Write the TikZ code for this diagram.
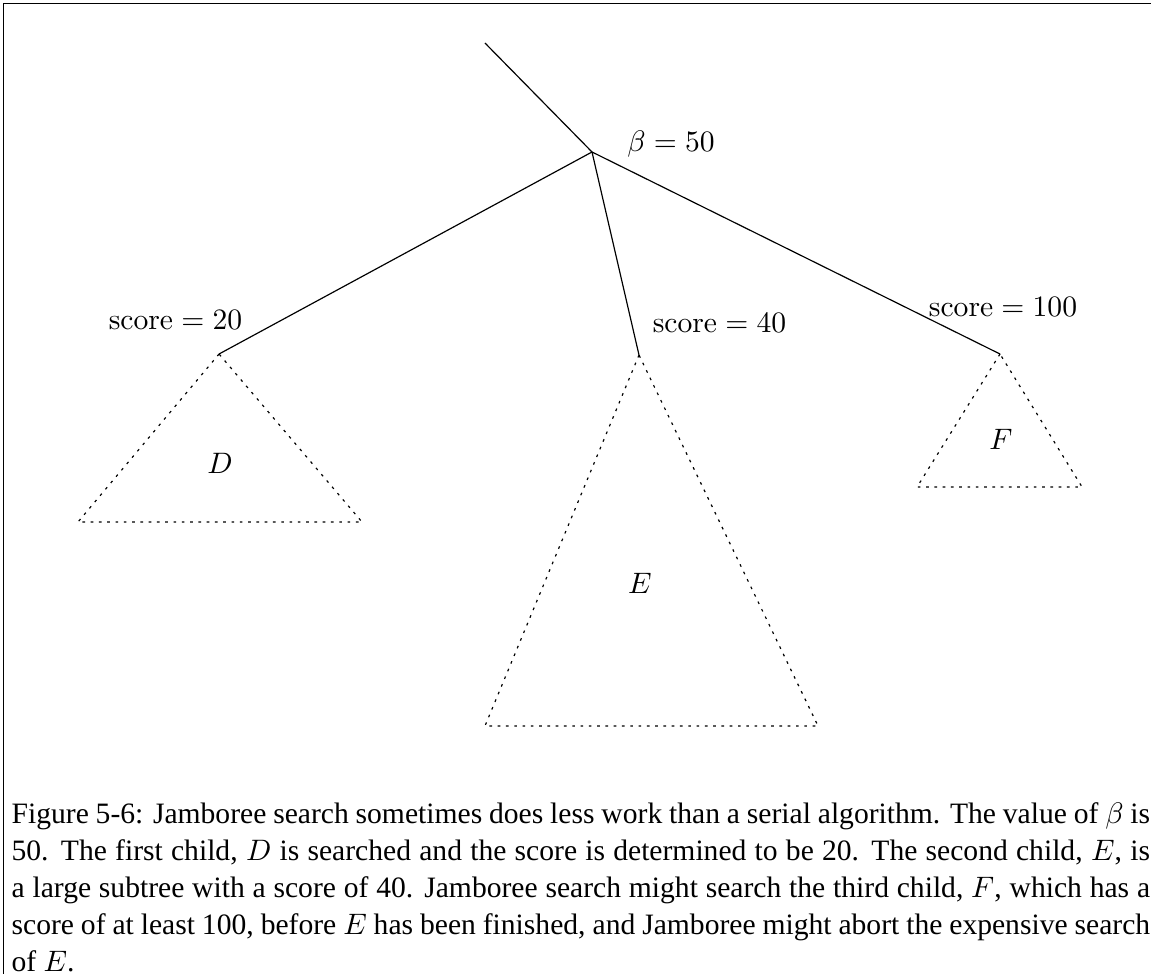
\documentclass[tikz,border=0pt]{standalone}
\usepackage[no-math]{fontspec}
\setmainfont{Liberation Serif}
\begin{document}
\begin{tikzpicture}[subtree/.style = {dash pattern = on 0.9pt off 1.9pt}]
        \useasboundingbox (0, 0) rectangle (13.668, -11.566);
        \draw[line width = 0.5pt] (0.042, -11.566) -- (0.042, -0.042) -- (13.668, -0.042);

        \coordinate (up) at (5.759, -0.511);
        \coordinate (root) at (7.030, -1.805);
        \coordinate (d) at (2.601, -4.204);
        \coordinate (e) at (7.588, -4.216);
        \coordinate (f) at (11.875, -4.204);

        \node[anchor = base] (beta) at (7.968, -1.805) {$\beta = 50$};
        \node[anchor = base] (sd) at (2.084, -3.907) {$\mathrm{score} = 20$};
        \node[anchor = base] (se) at (8.544, -3.943) {$\mathrm{score} = 40$};
        \node[anchor = base] (sf) at (11.911, -3.764) {$\mathrm{score} = 100$};

        \draw (up) -- (root);
        \draw (root) -- (d);
        \draw (root) -- (e);
        \draw (root) -- (f);

        \draw[subtree] (d) -- (0.926, -6.199) -- (4.299, -6.199) -- cycle;
        \draw[subtree] (e) -- (5.759, -8.621) -- (9.714, -8.621) -- cycle;
        \draw[subtree] (f) -- (10.890, -5.783) -- (12.849, -5.783) -- cycle;

        \node[anchor = base] (dname) at (2.613, -5.617) {$D$};
        \node[anchor = base] (ename) at (7.600, -7.042) {$E$};
        \node[anchor = base] (fname) at (11.887, -5.332) {$F$};

        \node[anchor = base west, inner sep = 0pt, text width = 13.52cm, align = justify,
              font = \fontsize{10pt}{12.5pt}\selectfont] (caption) at (0.131, -9.78)
              {Figure 5-6: Jamboree search sometimes does less work than a serial algorithm. The value of $\beta$ is\linebreak 50. The first child, $D$ is searched and the score is determined to be 20. The second child, $E$, is a large subtree with a score of 40. Jamboree search might search the third child, $F$, which has a score of at least 100, before $E$ has been finished, and Jamboree might abort the expensive search of~$E$.};
    \end{tikzpicture}
\end{document}
